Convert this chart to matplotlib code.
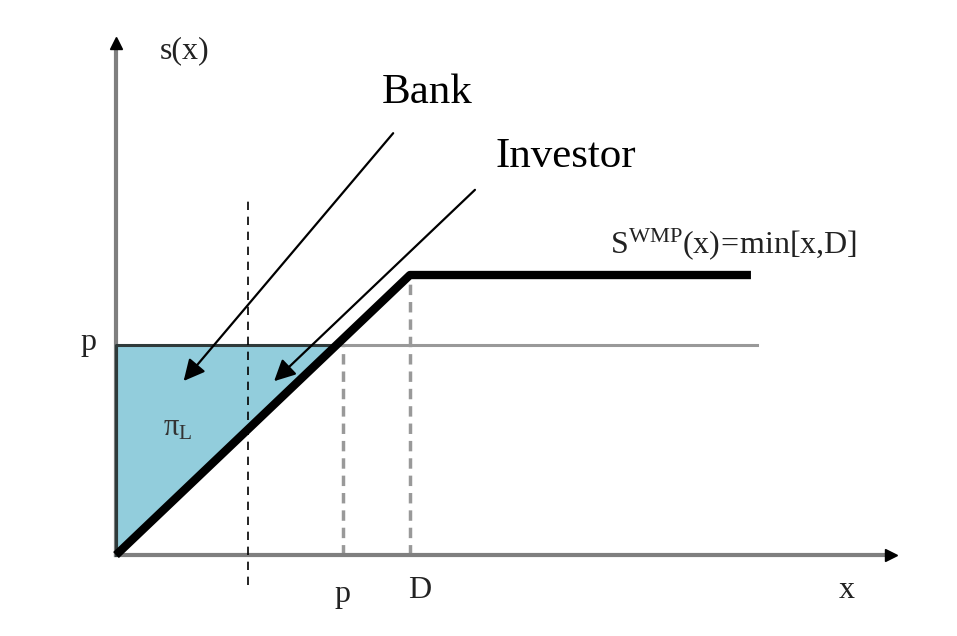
import numpy as np
import matplotlib.pyplot as plt

plt.rcParams['font.family'] = ['Liberation Serif', 'DejaVu Serif']
plt.rcParams['mathtext.fontset'] = 'custom'
plt.rcParams['mathtext.rm'] = 'Liberation Serif'
plt.rcParams['mathtext.it'] = 'Liberation Serif:italic'

# model values (D normalised to 1)
D = 1.0
p = 0.75
x_end = 2.16
x_cut = 0.45

# payoff s(x) = min[x, D]
payoff_x = [0, D, x_end]
payoff_y = [0, D, D]

# shaded region between s(x) and p
fill_x = [0, p]
fill_top = [p, p]
fill_bottom = [0, p]

fig = plt.figure(figsize=(9.57, 6.36), dpi=100)
ax = fig.add_axes([0, 0, 1, 1])
ax.set_xlim(-0.3946, 2.861)
ax.set_ylim(-0.289, 1.982)
ax.axis('off')

# axes with arrow heads
ax.plot([0, 2.63], [0, 0], color='#7f7f7f', lw=3, zorder=2)
ax.plot([0, 0], [0, 1.82], color='#7f7f7f', lw=3, zorder=2)
ax.plot(2.635, 0, marker='>', color='black', ms=9, zorder=3)
ax.plot(0, 1.83, marker='^', color='black', ms=9, zorder=3)

# shaded triangle
ax.fill_between(fill_x, fill_bottom, fill_top, color='#92cddc', zorder=1)
ax.plot([0, 0, p], [0, p, p], color='#2f3a3a', lw=2.2, zorder=2)

# horizontal p line
ax.plot([p, 2.18], [p, p], color='#999999', lw=2.2, zorder=1)

# dashed verticals
ax.plot([p * 1.03, p * 1.03], [0, p], color='#999999', lw=2.5, ls=(0, (3, 2)), zorder=1)
ax.plot([D, D], [0, D], color='#999999', lw=2.5, ls=(0, (3, 2)), zorder=1)
ax.plot([x_cut, x_cut], [-0.107, 1.286], color='black', lw=1.2, ls=(0, (5, 4)), zorder=3)

# payoff line
ax.plot(payoff_x, payoff_y, color='black', lw=6, solid_capstyle='butt', zorder=4)

# arrows
arrow = dict(arrowstyle='-|>', color='black', lw=1.6, mutation_scale=32)
ax.annotate('', xy=(0.224, 0.614), xytext=(0.949, 1.514), arrowprops=arrow, zorder=5)
ax.annotate('', xy=(0.531, 0.614), xytext=(1.228, 1.311), arrowprops=arrow, zorder=5)

# labels
ax.text(1.058, 1.65, 'Bank', fontsize=31, ha='center', va='center')
ax.text(1.531, 1.421, 'Investor', fontsize=31, ha='center', va='center')

small = dict(fontsize=23, color='#222222', va='center')
ax.text(0.15, 1.80, 's(x)', ha='left', **small)
ax.text(-0.095, 0.76, 'p', ha='center', **small)
ax.text(0.77, -0.14, 'p', ha='center', **small)
ax.text(1.034, -0.125, 'D', ha='center', **small)
ax.text(2.486, -0.125, 'x', ha='center', **small)
ax.text(0.211, 0.454, r'$\mathrm{\pi}_\mathrm{L}$', ha='center', fontsize=22, color='#333333', va='center')
ax.text(1.68, 1.11, r'$\mathrm{S}^{\mathrm{WMP}}\mathrm{(x)\!=\!min[x{,}D]}$', ha='left', **small)

fig.savefig('out.png', dpi=100)
